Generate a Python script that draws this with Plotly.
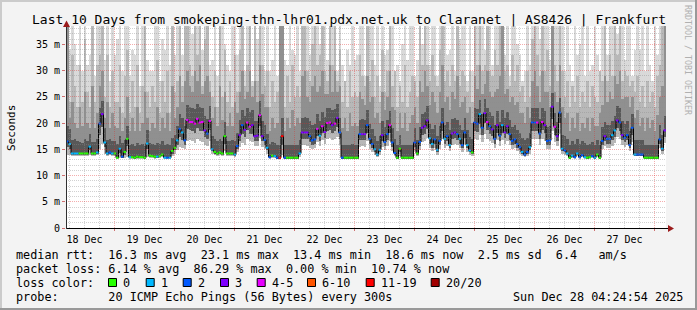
import math
import pandas as pd
import plotly.graph_objects as go

# ---------------- data (hourly columns, ms) ----------------
med = [
    16.5, 16.0, 14.2, 14.2, 14.2, 14.2, 14.2, 14.2, 14.2, 15.5, 14.2, 14.2, 14.4, 19.9, 21.7, 16.3, 14.2, 14.4, 14.2, 14.2,
    13.4, 15.1, 13.6, 14.5, 17.0, 13.5, 13.5, 13.4, 13.6, 13.5, 13.5, 13.4, 16.1, 13.8, 13.7, 13.6, 13.6, 13.7, 14.0, 13.4, 13.4, 13.4, 14.7, 15.3,
    16.7, 18.9, 18.2, 16.7, 20.6, 20.2, 20.2, 19.9, 20.8, 20.1, 20.2, 18.6, 18.0, 20.4, 15.0, 14.5, 14.2, 14.4, 14.2, 17.5, 14.2, 14.2, 14.2, 14.0,
    15.6, 17.7, 19.6, 18.7, 20.1, 19.3, 19.6, 17.5, 17.6, 21.5, 17.5, 16.8, 15.3, 13.5, 13.8, 13.7, 13.4, 13.4, 17.5, 13.4, 13.4, 13.4, 13.4, 13.4,
    13.4, 14.2, 18.2, 18.2, 18.2, 17.5, 16.7, 16.9, 18.9, 17.6, 19.4, 18.3, 20.0, 20.1, 19.6, 19.9, 21.0, 18.2, 13.4, 13.4, 13.4, 13.4, 13.4, 13.4,
    13.4, 17.9, 17.9, 17.9, 19.6, 17.0, 16.0, 15.0, 14.0, 14.9, 17.7, 16.4, 17.9, 19.6, 16.3, 14.3, 13.4, 15.1, 13.4, 13.4, 13.4, 13.4, 13.4, 16.3,
    14.2, 16.4, 19.1, 19.4, 20.5, 17.1, 16.0, 16.9, 14.9, 16.6, 20.1, 17.0, 17.5, 15.8, 18.0, 18.2, 17.9, 17.0, 15.8, 18.2, 15.8, 14.8, 14.4, 20.1,
    19.9, 21.7, 19.1, 21.9, 20.2, 19.4, 18.8, 17.0, 19.6, 17.6, 19.6, 18.2, 19.4, 17.9, 16.6, 16.9, 16.0, 15.4, 14.5, 14.0, 14.5, 15.4, 20.1, 20.1,
    20.1, 18.0, 20.2, 19.6, 16.6, 16.7, 23.1, 19.3, 17.5, 22.0, 15.1, 14.8, 14.2, 13.4, 13.8, 13.5, 14.2, 13.5, 13.9, 13.5, 13.4, 13.5, 13.7, 13.4,
    14.0, 13.4, 16.6, 17.5, 17.0, 17.0, 17.7, 18.6, 20.5, 20.1, 17.7, 17.2, 17.7, 15.8, 19.1, 14.0, 14.0, 14.0, 14.0, 13.4, 13.4, 13.4, 13.4, 13.4, 13.4, 16.9, 15.1, 18.6,
]
loss = [
    2, 1, 1, 1, 1, 0, 0, 0, 0, 1, 0, 0, 1, 2, 3, 1, 1, 2, 1, 0,
    0, 1, 2, 0, 0, 1, 0, 0, 0, 0, 0, 0, 1, 0, 0, 0, 1, 0, 0, 1, 2, 1, 0, 0,
    1, 2, 1, 2, 4, 4, 4, 4, 4, 4, 4, 3, 2, 4, 1, 0, 0, 0, 0, 0, 0, 0, 0, 1,
    2, 3, 2, 3, 4, 4, 3, 3, 3, 4, 3, 2, 1, 2, 0, 1, 2, 6, 6, 2, 0, 0, 0, 0,
    0, 1, 3, 3, 3, 2, 2, 2, 4, 1, 4, 3, 4, 4, 3, 4, 3, 2, 2, 0, 0, 0, 0, 0,
    0, 2, 3, 3, 2, 2, 2, 1, 1, 1, 3, 2, 2, 4, 2, 2, 0, 0, 0, 0, 0, 0, 0, 2,
    0, 2, 3, 3, 3, 1, 1, 2, 1, 2, 2, 1, 2, 1, 3, 3, 2, 1, 2, 2, 1, 1, 0, 2,
    2, 1, 2, 3, 4, 2, 3, 2, 3, 2, 1, 3, 3, 2, 2, 2, 2, 2, 1, 2, 2, 1, 2, 2,
    4, 2, 4, 3, 2, 2, 3, 4, 3, 2, 1, 2, 1, 0, 1, 2, 1, 2, 2, 1, 0, 0, 2, 1,
    0, 0, 2, 3, 2, 2, 1, 1, 3, 2, 3, 2, 2, 2, 2, 1, 2, 2, 2, 0, 0, 0, 0, 0, 0, 2, 1, 3,
]
lo = [
    14.0, 13.9, 13.8, 13.8, 13.8, 13.8, 13.8, 13.8, 13.8, 13.9, 13.8, 13.8, 13.9, 15.0, 16.0, 14.2, 13.8, 13.9, 13.8, 13.8,
    13.2, 13.4, 13.3, 13.4, 13.6, 13.2, 13.2, 13.1, 13.2, 13.2, 13.2, 13.1, 13.5, 13.3, 13.3, 13.2, 13.3, 13.3, 13.5, 13.2, 13.2, 13.2, 13.8, 14.2,
    14.8, 15.5, 15.2, 15.0, 16.5, 16.8, 16.5, 16.2, 17.0, 16.6, 16.4, 15.8, 15.6, 16.5, 14.2, 13.9, 13.8, 13.9, 13.8, 14.6, 13.8, 13.8, 13.8, 13.6,
    14.4, 15.4, 16.2, 15.8, 17.0, 16.5, 16.4, 15.6, 15.6, 17.2, 15.5, 15.0, 14.2, 13.2, 13.3, 13.3, 13.1, 13.1, 14.0, 13.1, 13.1, 13.1, 13.1, 13.1,
    13.1, 13.6, 15.8, 15.8, 15.7, 15.3, 15.0, 15.2, 16.4, 15.6, 16.8, 16.0, 17.0, 17.1, 16.8, 17.0, 17.4, 15.8, 13.1, 13.1, 13.1, 13.1, 13.1, 13.1,
    13.1, 15.5, 15.6, 15.5, 16.6, 15.0, 14.5, 14.0, 13.6, 14.0, 15.4, 14.8, 15.6, 16.6, 14.7, 13.7, 13.1, 13.8, 13.1, 13.1, 13.1, 13.1, 13.1, 14.6,
    13.7, 14.8, 16.3, 16.5, 17.2, 15.2, 14.6, 15.2, 14.0, 15.0, 17.0, 15.3, 15.6, 14.6, 15.8, 16.0, 15.8, 15.2, 14.5, 16.0, 14.5, 14.0, 13.8, 17.0,
    16.8, 17.8, 16.4, 18.0, 17.0, 16.6, 16.2, 15.2, 16.8, 15.6, 16.8, 16.0, 16.6, 15.8, 15.0, 15.2, 14.6, 14.2, 13.8, 13.5, 13.8, 14.2, 17.0, 17.0,
    17.0, 15.8, 17.0, 16.6, 15.0, 15.0, 18.5, 16.4, 15.6, 18.0, 14.2, 14.0, 13.7, 13.1, 13.4, 13.2, 13.7, 13.2, 13.5, 13.2, 13.1, 13.2, 13.3, 13.1,
    13.6, 13.1, 15.0, 15.6, 15.2, 15.2, 15.7, 16.2, 17.4, 17.0, 15.8, 15.4, 15.8, 14.6, 16.4, 13.7, 13.7, 13.7, 13.7, 13.1, 13.1, 13.1, 13.1, 13.1, 13.1, 15.2, 14.2, 16.2,
]
lmid = [
    15.4, 15.0, 14.0, 14.0, 14.0, 14.0, 14.0, 14.0, 14.0, 14.8, 14.0, 14.0, 14.2, 17.8, 19.2, 15.4, 14.0, 14.2, 14.0, 14.0,
    13.3, 14.3, 13.4, 14.0, 15.6, 13.3, 13.3, 13.2, 13.4, 13.3, 13.3, 13.2, 15.0, 13.6, 13.5, 13.4, 13.4, 13.5, 13.8, 13.3, 13.3, 13.3, 14.2, 14.8,
    15.8, 17.4, 16.8, 15.9, 18.8, 18.6, 18.5, 18.2, 19.0, 18.4, 18.4, 17.3, 16.9, 18.6, 14.6, 14.2, 14.0, 14.2, 14.0, 16.0, 14.0, 14.0, 14.0, 13.8,
    15.0, 16.6, 18.0, 17.3, 18.6, 17.9, 18.0, 16.6, 16.6, 19.4, 16.5, 15.9, 14.8, 13.3, 13.6, 13.5, 13.2, 13.2, 15.8, 13.2, 13.2, 13.2, 13.2, 13.2,
    13.2, 13.9, 17.0, 17.0, 17.0, 16.4, 15.8, 16.0, 17.6, 16.6, 18.1, 17.2, 18.5, 18.6, 18.2, 18.4, 19.2, 17.0, 13.2, 13.2, 13.2, 13.2, 13.2, 13.2,
    13.2, 16.7, 16.8, 16.7, 18.1, 16.0, 15.2, 14.5, 13.8, 14.5, 16.5, 15.6, 16.7, 18.1, 15.5, 14.0, 13.2, 14.5, 13.2, 13.2, 13.2, 13.2, 13.2, 15.4,
    14.0, 15.6, 17.7, 18.0, 18.8, 16.1, 15.3, 16.0, 14.5, 15.8, 18.5, 16.1, 16.5, 15.2, 16.9, 17.1, 16.8, 16.1, 15.2, 17.1, 15.2, 14.4, 14.1, 18.5,
    18.3, 19.8, 17.7, 20.0, 18.6, 18.0, 17.5, 16.1, 18.2, 16.6, 18.2, 17.1, 18.0, 16.8, 15.8, 16.0, 15.3, 14.8, 14.1, 13.8, 14.1, 14.8, 18.5, 18.5,
    18.5, 16.9, 18.6, 18.1, 15.8, 15.9, 20.8, 17.8, 16.5, 20.0, 14.6, 14.4, 13.9, 13.2, 13.6, 13.3, 13.9, 13.3, 13.7, 13.3, 13.2, 13.3, 13.5, 13.2,
    13.8, 13.2, 15.8, 16.5, 16.1, 16.1, 16.7, 17.4, 19.0, 18.5, 16.7, 16.3, 16.7, 15.2, 17.7, 13.8, 13.8, 13.8, 13.8, 13.2, 13.2, 13.2, 13.2, 13.2, 13.2, 16.0, 14.6, 17.4,
]
h1 = [
    19.5, 18.8, 16.8, 17.0, 16.5, 16.4, 16.2, 17.0, 16.6, 18.0, 16.4, 16.3, 17.0, 22.8, 24.2, 19.0, 16.8, 17.0, 16.6, 16.5,
    16.0, 17.6, 16.2, 16.8, 19.4, 15.8, 16.0, 15.6, 16.2, 15.8, 16.0, 15.7, 18.6, 16.2, 16.0, 15.9, 16.2, 16.0, 16.5, 15.8, 16.0, 15.8, 17.2, 17.8,
    19.4, 21.8, 21.0, 19.5, 23.4, 23.0, 22.8, 22.6, 23.6, 23.0, 22.9, 21.4, 20.8, 23.2, 17.6, 17.0, 16.6, 17.0, 16.6, 20.2, 16.6, 16.5, 16.8, 16.6,
    18.2, 20.6, 22.4, 21.4, 22.9, 22.2, 22.4, 20.4, 20.4, 24.2, 20.3, 19.6, 17.9, 16.0, 16.3, 16.2, 15.8, 15.8, 21.0, 15.8, 15.8, 15.9, 15.8, 15.9,
    15.9, 16.8, 21.0, 21.1, 21.0, 20.4, 19.6, 19.8, 21.8, 20.4, 22.2, 21.2, 22.8, 22.9, 22.4, 22.6, 23.6, 21.0, 15.9, 15.8, 15.9, 15.8, 16.0, 15.8,
    15.9, 20.6, 20.8, 20.6, 22.4, 19.8, 18.8, 17.6, 16.6, 17.6, 20.4, 19.2, 20.6, 22.3, 19.0, 16.9, 15.9, 17.8, 15.8, 15.9, 15.8, 15.9, 15.8, 19.0,
    16.8, 19.2, 21.8, 22.2, 23.2, 19.8, 18.8, 19.6, 17.6, 19.4, 22.8, 19.7, 20.2, 18.6, 20.8, 21.0, 20.6, 19.7, 18.6, 21.0, 18.6, 17.4, 17.0, 22.8,
    22.6, 24.4, 21.8, 24.6, 22.9, 22.1, 21.4, 19.6, 22.3, 20.2, 22.4, 20.9, 22.1, 20.6, 19.3, 19.6, 18.7, 18.1, 17.2, 16.7, 17.2, 18.1, 22.8, 22.9,
    22.8, 20.7, 22.9, 22.3, 19.3, 19.4, 25.8, 22.0, 20.2, 24.7, 17.8, 17.5, 16.9, 15.9, 16.5, 16.1, 16.9, 16.1, 16.6, 16.2, 15.9, 16.1, 16.4, 15.9,
    16.8, 15.9, 19.3, 20.2, 19.7, 19.7, 20.4, 21.3, 23.2, 22.8, 20.4, 19.9, 20.4, 18.5, 21.8, 16.8, 16.8, 16.8, 16.8, 15.9, 15.8, 15.9, 15.8, 15.9, 15.8, 19.6, 17.8, 21.3,
]
h2 = [
    40, 21, 24, 20, 19, 23, 19.5, 26, 20, 19, 27, 19, 22, 27, 30, 21, 24, 19, 22, 19.5,
    19, 23, 18.5, 21, 25, 18.5, 21, 18.5, 23, 18.5, 20, 26, 21, 18.5, 20, 19, 23, 18.5, 21, 19, 22, 18.5, 27, 21,
    23, 29, 24, 28, 30, 27, 26, 30, 28, 31, 25.5, 28, 29, 26, 21, 23, 19.5, 27, 20.5, 26, 19.5, 22, 19.5, 24,
    22, 26, 30, 24.5, 26, 30, 25, 28, 24, 31, 25.5, 23, 23, 18.5, 21, 19, 20, 40, 40, 18.5, 21, 19, 22.5, 19.5,
    21, 20, 29, 30, 25, 24, 27, 29, 26, 27, 30, 25.5, 25.5, 31, 26, 30, 26, 27, 19, 21, 18.5, 22, 19.5, 20,
    19.5, 26, 24.5, 23.5, 29, 24, 25, 21, 22, 20, 26, 22.5, 25, 30, 23, 22.5, 18.5, 22, 19, 22, 18.5, 20, 21.5, 23,
    20, 28, 26, 30, 27, 23.5, 26, 24, 22, 26, 31, 24, 25, 22.5, 26, 24.5, 29, 23, 24, 25, 22, 23, 20, 29,
    26.5, 31, 25.5, 27.5, 30, 26, 25, 26, 26.5, 29, 40, 25.5, 26.5, 24, 25, 23.5, 24, 22, 22, 20, 23, 21, 28, 30,
    27, 24, 30, 26, 26, 23, 40, 26, 24, 31, 23, 21, 22, 18.5, 21, 19, 22, 18.5, 20, 19, 21, 18.5, 21, 19.5,
    19.5, 22, 23.5, 29, 24, 26, 24.5, 29, 27.5, 30, 24.5, 25, 25, 23, 25, 21, 22.5, 19.5, 21, 18.5, 21, 19, 20.5, 18.5, 21.5, 25, 27, 40,
]
h3 = [
    40, 24, 33, 27, 23, 31, 24, 36, 26, 23, 40, 24, 31, 33, 40, 25, 33, 23, 30, 24,
    24, 31, 22, 29, 34, 22, 28, 23, 31, 22, 27, 40, 26, 23, 27, 24, 32, 22, 28, 24, 30, 22, 40, 26,
    28, 40, 27, 40, 40, 31, 29, 40, 33, 40, 27, 36, 40, 28, 25, 30, 23, 40, 25, 34, 24, 28, 23, 33,
    26, 34, 40, 27, 31, 40, 27, 40, 28, 40, 31, 27, 30, 23, 28, 24, 26, 40, 40, 23, 29, 24, 31, 25,
    27, 25, 40, 40, 30, 28, 35, 40, 31, 33, 40, 30, 28, 40, 31, 40, 28, 34, 24, 28, 23, 30, 25, 26,
    25, 33, 29, 27, 40, 28, 32, 25, 29, 24, 34, 26, 30, 40, 27, 30, 23, 27, 24, 31, 23, 26, 29, 28,
    25, 40, 31, 40, 31, 28, 33, 29, 27, 34, 40, 28, 30, 27, 31, 28, 40, 27, 30, 29, 26, 30, 24, 40,
    31, 40, 30, 31, 40, 30, 29, 34, 31, 40, 40, 30, 31, 27, 33, 28, 31, 26, 27, 24, 30, 25, 36, 40,
    33, 29, 40, 30, 34, 27, 40, 31, 28, 40, 30, 25, 28, 23, 27, 24, 29, 23, 26, 24, 28, 23, 27, 25,
    24, 30, 28, 40, 28, 33, 29, 40, 33, 40, 28, 30, 29, 27, 28, 26, 29, 24, 27, 23, 28, 24, 26, 23, 29, 31, 40, 40,
]
h4 = [
    45, 34, 45, 35, 31, 45, 30, 45, 31, 33, 45, 29, 45, 45, 45, 32, 45, 28, 45, 33,
    36, 45, 30, 45, 45, 29, 34, 33, 45, 27, 45, 45, 32, 30, 30, 45, 45, 28, 36, 34, 45, 31, 45, 33,
    45, 45, 33, 45, 45, 45, 37, 45, 45, 45, 34, 45, 45, 31, 32, 45, 29, 45, 45, 35, 31, 30, 45, 45,
    33, 45, 45, 30, 45, 45, 28, 45, 36, 45, 45, 30, 45, 30, 32, 45, 29, 45, 45, 32, 31, 45, 34, 33,
    45, 30, 45, 45, 45, 33, 45, 45, 45, 35, 45, 45, 32, 45, 45, 45, 30, 45, 31, 28, 34, 31, 45, 32,
    33, 45, 45, 29, 45, 45, 45, 31, 45, 27, 45, 33, 34, 45, 45, 30, 31, 28, 35, 45, 32, 45, 45, 29,
    32, 45, 35, 45, 45, 31, 45, 45, 29, 45, 45, 45, 33, 34, 45, 30, 45, 36, 45, 45, 28, 45, 30, 45,
    45, 45, 45, 34, 45, 45, 31, 45, 45, 45, 45, 33, 45, 29, 45, 45, 35, 33, 28, 30, 45, 31, 45, 45,
    45, 36, 45, 45, 45, 32, 45, 45, 45, 45, 45, 30, 45, 31, 28, 45, 33, 35, 45, 29, 45, 30, 31, 45,
    33, 30, 45, 45, 33, 45, 45, 45, 37, 45, 45, 32, 45, 45, 29, 34, 45, 34, 45, 30, 45, 31, 28, 45, 33, 45, 45, 45,
]
for _a in (med, loss, lo, lmid, h1, h2, h3, h4):
    assert len(_a) == 240, len(_a)

loss_labels = ["0", "1", "2", "3", "4-5", "6-10", "11-19", "20/20"]
loss_colors = ["#26ff00", "#00b8ff", "#0059ff", "#7e00ff", "#e600ff", "#ff5500", "#ff0000", "#a10000"]
y_tickvals = [0, 5, 10, 15, 20, 25, 30, 35]
y_ticktext = ["0", "5 m", "10 m", "15 m", "20 m", "25 m", "30 m", "35 m"]

title_text = "Last 10 Days from smokeping-thn-lhr01.pdx.net.uk to Claranet | AS8426 | Frankfurt"
line_rtt = "median rtt:  16.3 ms avg  23.1 ms max  13.4 ms min  18.6 ms now  2.5 ms sd  6.4   am/s"
line_loss = "packet loss: 6.14 % avg  86.29 % max  0.00 % min  10.74 % now"
line_probe = "probe:       20 ICMP Echo Pings (56 Bytes) every 300s"
stamp = "Sun Dec 28 04:24:54 2025"

# ---------------- geometry ----------------
W, H = 697, 310
L, R, T, B = 66, 666, 26, 228
YMAX = 38.5
t_start = pd.Timestamp("2025-12-18 04:36")
t_end = pd.Timestamp("2025-12-28 04:36")
centers = pd.date_range("2025-12-18 05:06", periods=len(med), freq="h")
half = pd.Timedelta(minutes=30)

def px(x):
    return (x - L) / (R - L)

def py(y):
    return (B - y) / (B - T)

MONO = "DejaVu Sans Mono"
fig = go.Figure()

def smoke(base, top, color):
    fig.add_trace(go.Bar(
        x=centers, base=base, y=[t - b for t, b in zip(top, base)],
        width=3600000, marker=dict(color=color, line=dict(width=0)),
        hoverinfo="skip", showlegend=False))

smoke(lo, h4, "#d9d9d9")
smoke(lo, h3, "#b8b8b8")
smoke(lmid, h2, "#909090")
smoke(lmid, h1, "#585858")

edges = [c - half for c in centers] + [centers[-1] + half]
fig.add_trace(go.Scatter(x=edges, y=med + [med[-1]], mode="lines",
                         line=dict(color="#000000", width=1, shape="hv"),
                         hoverinfo="skip", showlegend=False))
for ci, col in enumerate(loss_colors):
    xs, ys = [], []
    for c, m, l in zip(centers, med, loss):
        if l == ci:
            xs += [c - half, c + half, None]
            ys += [m, m, None]
    if xs:
        fig.add_trace(go.Scatter(x=xs, y=ys, mode="lines",
                                 line=dict(color=col, width=2),
                                 hoverinfo="skip", showlegend=False))

shapes = []
minor_g = "rgba(140,140,140,0.40)"
major_g = "rgba(225,40,40,0.38)"
t = pd.Timestamp("2025-12-18 06:00")
while t < t_end:
    major = (t.hour == 0)
    shapes.append(dict(type="line", xref="x", yref="paper", x0=t, x1=t, y0=0, y1=1,
                       line=dict(color=major_g if major else minor_g, width=1, dash="1px,1px"),
                       layer="above"))
    t += pd.Timedelta(hours=6)
for v in range(1, 39):
    major = (v % 5 == 0)
    ypx = math.floor(B - v * (B - T) / YMAX) + 0.5
    shapes.append(dict(type="line", xref="paper", yref="paper", x0=0, x1=1, y0=py(ypx), y1=py(ypx),
                       line=dict(color=major_g if major else minor_g, width=1, dash="1px,1px"),
                       layer="above"))
# axes + arrows
shapes.append(dict(type="line", xref="paper", yref="paper", x0=px(66), x1=px(669),
                   y0=py(228.5), y1=py(228.5), line=dict(color="#000000", width=1), layer="above"))
shapes.append(dict(type="line", xref="paper", yref="paper", x0=px(66.5), x1=px(66.5),
                   y0=py(229), y1=py(24), line=dict(color="#303030", width=1), layer="above"))
arrow_c = "#9b1c1c"
shapes.append(dict(type="path", xref="paper", yref="paper", layer="above",
                   path=f"M {px(668)},{py(225)} L {px(674)},{py(228.5)} L {px(668)},{py(232)} Z",
                   fillcolor=arrow_c, line=dict(width=0)))
shapes.append(dict(type="path", xref="paper", yref="paper", layer="above",
                   path=f"M {px(63)},{py(27)} L {px(66.5)},{py(20.5)} L {px(70)},{py(27)} Z",
                   fillcolor=arrow_c, line=dict(width=0)))
# frame
shapes.append(dict(type="rect", xref="paper", yref="paper", x0=px(0), x1=px(697), y0=py(0), y1=py(2),
                   fillcolor="#cbcbcb", line=dict(width=0), layer="above"))
shapes.append(dict(type="rect", xref="paper", yref="paper", x0=px(0), x1=px(2), y0=py(0), y1=py(310),
                   fillcolor="#cbcbcb", line=dict(width=0), layer="above"))
shapes.append(dict(type="rect", xref="paper", yref="paper", x0=px(0), x1=px(697), y0=py(308), y1=py(310),
                   fillcolor="#999999", line=dict(width=0), layer="above"))
shapes.append(dict(type="rect", xref="paper", yref="paper", x0=px(695), x1=px(697), y0=py(0), y1=py(310),
                   fillcolor="#999999", line=dict(width=0), layer="above"))

annotations = []
def text(x, y, s, size, anchor="left", color="#000000", angle=0):
    annotations.append(dict(xref="paper", yref="paper", x=px(x), y=py(y), text=s,
                            showarrow=False, xanchor=anchor, yanchor="middle",
                            textangle=angle, borderpad=0, borderwidth=0,
                            font=dict(family=MONO, size=size, color=color)))

text(348.5, 19.5, title_text, 13, anchor="center")
text(11, 128, "Seconds", 11, anchor="center", angle=-90)
text(688, 60, "RRDTOOL / TOBI OETIKER", 8.3, anchor="center", color="#b0b0b0", angle=90)
LEG = 11.8
text(16, 254.7, line_rtt, LEG)
text(16, 268.7, line_loss, LEG)
text(16, 282.7, "loss color:", LEG)
text(16, 296.7, line_probe, LEG)
text(683.5, 296.7, stamp, LEG, anchor="right")
box_x = [108, 145.7, 182.7, 220, 256.7, 307, 365.7, 430.7]
for bx, lab, col in zip(box_x, loss_labels, loss_colors):
    shapes.append(dict(type="rect", xref="paper", yref="paper", x0=px(bx + 0.5), x1=px(bx + 8.5),
                       y0=py(286.5), y1=py(278.5), fillcolor=col,
                       line=dict(color="#000000", width=1), layer="above"))
    text(bx + 15, 282.7, lab, LEG)

fig.update_layout(
    width=W, height=H, autosize=False,
    margin=dict(l=L, r=W - R, t=T, b=H - B, pad=0),
    paper_bgcolor="#f3f3f3", plot_bgcolor="#ffffff",
    barmode="overlay", bargap=0, showlegend=False,
    shapes=shapes, annotations=annotations,
    xaxis=dict(type="date", range=[t_start, t_end], showgrid=False, zeroline=False,
               showline=False, ticks="outside", ticklen=2, tickcolor="#d07070",
               tick0="2025-12-18", dtick=86400000, tickformat="%d %b",
               ticklabelmode="period", tickfont=dict(family=MONO, size=10, color="#000000"),
               fixedrange=True),
    yaxis=dict(range=[0, YMAX], showgrid=False, zeroline=False, showline=False,
               tickmode="array", tickvals=y_tickvals, ticktext=y_ticktext,
               ticks="outside", ticklen=3, tickcolor="#d07070",
               tickfont=dict(family=MONO, size=10, color="#000000"), fixedrange=True),
)
fig.write_html("out.html", include_plotlyjs=True, config={"displayModeBar": False, "staticPlot": True})
